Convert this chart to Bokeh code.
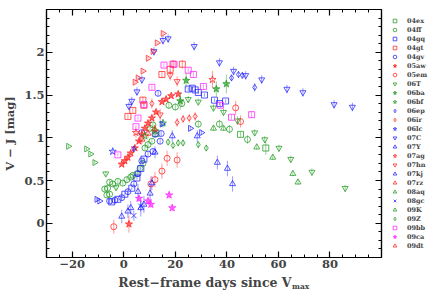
import numpy as np
from bokeh.plotting import figure
from bokeh.layouts import row, column
from bokeh.models import FixedTicker, LinearAxis, Legend, LegendItem, Label
from bokeh.embed import file_html
from bokeh.resources import INLINE

# ---------------- data (rest-frame days, V-J colour, error) ----------------
names = ["04ex", "04ff", "04gq", "04gt", "04gv", "05aw", "05em", "06T", "06ba", "06bf",
         "06ep", "06ir", "06lc", "07C", "07Y", "07ag", "07hn", "07kj", "07rz", "08aq",
         "08gc", "09K", "09Z", "09bb", "09ca", "09dt"]

x_04ex = [12.5, 45.3, 55.1]
y_04ex = [1.05, 1.04, 0.88]
e_04ex = [0.04, 0.03, 0.08]

x_04ff = [-7.4, -6.6, -6.3, -5.5, -5.5, -4.3, -2.3, -0.4, 1.2, 2.7, 3.5, 5.1, 6.3, 7.4, 8.2, 9.4, 10.9, 10.2, 11.3, 17.5, 20.0, 22.5, 28.9, 37.1, 41.0, 48.0]
y_04ff = [0.40, 0.33, 0.41, 0.34, 0.48, 0.46, 0.49, 0.47, 0.51, 0.54, 0.56, 0.58, 0.64, 0.70, 0.88, 0.92, 0.96, 1.11, 1.15, 1.38, 1.36, 1.40, 1.16, 1.16, 1.10, 0.98]
e_04ff = [0.03] * 19 + [0.04, 0.04, 0.04, 0.04, 0.05, 0.05, 0.05]

x_04gq = [-4.7, -2.3, 0.4, 3.1, 5.1, 6.6, 7.8, 25.0, 26.6, 27.7, 28.9, 31.3, 35.2, 37.1, 39.5]
y_04gq = [0.25, 0.28, 0.34, 0.41, 0.53, 0.64, 0.75, 1.57, 1.58, 1.56, 1.53, 1.50, 1.44, 1.40, 1.43]
e_04gq = [0.02] * 15

x_04gt = [1.6, 3.5, 7.4, 7.8, 14.8, 18.0, 19.1, 22.7]
y_04gt = [1.25, 1.32, 1.44, 1.38, 1.74, 1.80, 1.86, 1.86]
e_04gt = [0.03, 0.03, 0.04, 0.04, 0.04, 0.05, 0.05, 0.05]

x_04gv = [-5.5, -3.5, -0.8, 1.6, 3.9, 5.5, 7.0, 9.4, 11.3, 14.1, 13.3, 7.0, 12.1, 14.5]
y_04gv = [0.26, 0.27, 0.30, 0.37, 0.46, 0.58, 0.73, 0.81, 0.84, 0.96, 1.52, 1.06, 1.04, 1.05]
e_04gv = [0.03] * 14

x_05aw = [-0.8, 0.4, 1.6, 2.7, 4.3, 5.9, 7.0, 8.2, 9.4, 10.9, 12.5, 14.8, 16.4, 18.4, 21.1, 2.0]
y_05aw = [0.69, 0.73, 0.77, 0.82, 0.88, 0.96, 1.04, 1.11, 1.17, 1.23, 1.30, 1.42, 1.45, 1.49, 1.51, -0.01]
e_05aw = [0.02] * 15 + [0.10]

x_05em = [-3.9, 10.5, 12.1, 14.8, 16.8, 20.7, 43.4, 45.3]
y_05em = [-0.04, 0.46, 0.51, 0.61, 0.76, 0.74, 1.35, 1.19]
e_05em = [0.08, 0.09, 0.09, 0.09, 0.09, 0.09, 0.08, 0.07]

x_06T = [-7.0, -3.0, 25.0, 28.9, 34.8, 38.7, 44.1, 50.8, 54.7, 60.2, 64.8, 73.0, 85.9]
y_06T = [0.58, 0.42, 1.45, 1.42, 1.35, 1.30, 1.20, 1.06, 0.98, 0.88, 0.75, 0.60, 0.41]
e_06T = [0.03, 0.03, 0.04, 0.04, 0.04, 0.04, 0.05, 0.04, 0.04, 0.04, 0.04, 0.04, 0.04]

x_06ba = [21.9, 24.2, 35.9, 39.8]
y_06ba = [1.43, 1.67, 1.57, 1.63]
e_06ba = [0.10, 0.09, 0.09, 0.11]

x_06bf = [8.2, 12.1, 15.2]
y_06bf = [1.02, 1.08, 1.17]
e_06bf = [0.05, 0.05, 0.05]

x_06ep = [3.9, 41.8, 44.5, 46.0, 50.8]
y_06ep = [0.87, 1.70, 1.74, 1.73, 1.59]
e_06ep = [0.03, 0.04, 0.04, 0.04, 0.05]

x_06ir = [10.9, 20.7, 23.0, 25.4, 27.7]
y_06ir = [1.40, 1.18, 1.22, 1.23, 1.25]
e_06ir = [0.06, 0.05, 0.05, 0.05, 0.05]

x_06lc = [-4.3]
y_06lc = [0.84]
e_06lc = [0.02]

x_07C = [2.0, 3.1, 5.1, 7.0, 11.7, 15.2, 17.2, 27.3, 37.1, 42.6, 47.3, 53.5, 63.3, 69.5, 81.6, 88.7]
y_07C = [1.37, 1.43, 1.54, 1.68, 2.01, 2.14, 2.16, 2.07, 1.88, 1.78, 1.73, 1.68, 1.57, 1.53, 1.39, 1.36]
e_07C = [0.05] * 16

x_07Y = [-10.5, -9.4, 14.8, 25.8, 30.1]
y_07Y = [0.28, 0.26, 1.16, 1.11, 1.06]
e_07Y = [0.02, 0.02, 0.03, 0.03, 0.03]

x_07ag = [4.7, 34.4]
y_07ag = [1.06, 1.68]
e_07ag = [0.06, 0.10]

x_07hn = [14.1, 18.0, 20.7]
y_07hn = [1.27, 1.73, 1.66]
e_07hn = [0.07, 0.06, 0.06]

x_07kj = [-0.8, 1.6, 2.7, 5.5, 6.6, 7.8, 10.2, 10.9, 12.1, 18.8, 28.5, 36.3, 40.2, 42.2]
y_07kj = [0.08, 0.14, 0.18, 0.37, 0.18, 0.22, 0.35, 0.47, 0.83, 1.02, 1.02, 0.71, 0.64, 0.46]
e_07kj = [0.08, 0.08, 0.08, 0.09, 0.10, 0.10, 0.10, 0.08, 0.07, 0.07, 0.07, 0.08, 0.09, 0.09]

x_07rz = [7.0, 9.4, 12.0]
y_07rz = [0.98, 1.05, 1.10]
e_07rz = [0.05, 0.05, 0.05]

x_08aq = [34.8, 38.7, 51.6, 57.8, 65.6, 67.6]
y_08aq = [1.11, 1.11, 0.89, 0.77, 0.58, 0.48]
e_08aq = [0.03, 0.03, 0.03, 0.03, 0.03, 0.03]

x_08gc = [3.9, 6.6]
y_08gc = [0.09, 0.20]
e_08gc = [0.06, 0.06]

x_09K = [-21.5, -14.5, -12.9, -11.3]
y_09K = [0.90, 0.87, 0.81, 0.71]
e_09K = [0.02, 0.02, 0.02, 0.02]

x_09Z = [17.2, 19.1, 21.1, 23.0, 28.9, 32.0]
y_09Z = [0.95, 0.91, 0.94, 0.94, 0.92, 0.88]
e_09Z = [0.04, 0.04, 0.04, 0.04, 0.04, 0.04]

x_09bb = [-2.3, 4.7, 5.5, 7.8, 10.9, 15.6, 19.5, 25.0, 27.0, 30.9, 37.5, 41.8, 49.6]
y_09bb = [0.80, 1.13, 1.23, 1.39, 1.59, 1.85, 1.86, 1.79, 1.74, 1.60, 1.38, 1.24, 1.27]
e_09bb = [0.02, 0.02, 0.02, 0.02, 0.03, 0.03, 0.03, 0.03, 0.03, 0.03, 0.03, 0.03, 0.04]

x_09ca = [5.9, 9.4, 10.5, 17.6, 18.8]
y_09ca = [0.29, 0.26, 0.22, 0.33, 0.18]
e_09ca = [0.04, 0.04, 0.04, 0.04, 0.04]

x_09dt = [4.3, 5.5, 7.4, 9.4, 11.3, 12.9, 15.2]
y_09dt = [1.65, 1.70, 1.78, 1.93, 2.01, 2.11, 2.22]
e_09dt = [0.02] * 7

x_ticks = [-20, 0, 20, 40, 60, 80]
y_ticks = [0, 0.5, 1, 1.5, 2]

# ---------------- styles ----------------
GREEN, BLUE, RED, MAG = "#1f9a1f", "#2020ff", "#ff2020", "#ff20ff"
style = {
    "04ex": (GREEN, "square", 0, False), "04ff": (GREEN, "circle", 0, False),
    "04gq": (BLUE, "square", 0, False), "04gt": (RED, "square", 0, False),
    "04gv": (BLUE, "circle", 0, False), "05aw": (RED, "star", 0, True),
    "05em": (RED, "circle", 0, False), "06T": (GREEN, "inverted_triangle", 0, False),
    "06ba": (GREEN, "star", 0, True), "06bf": (GREEN, "star", 0, False),
    "06ep": (BLUE, "diamond", 0, False), "06ir": (RED, "diamond", 0, False),
    "06lc": (BLUE, "star", 0, False), "07C": (BLUE, "inverted_triangle", 0, False),
    "07Y": (BLUE, "triangle", -np.pi / 2, False), "07ag": (RED, "star", 0, False),
    "07hn": (RED, "inverted_triangle", 0, False), "07kj": (BLUE, "triangle", 0, False),
    "07rz": (RED, "triangle", 0, False), "08aq": (GREEN, "triangle", 0, False),
    "08gc": (BLUE, "x", 0, False), "09K": (GREEN, "triangle", -np.pi / 2, False),
    "09Z": (GREEN, "diamond", 0, False), "09bb": (MAG, "square", 0, False),
    "09ca": (MAG, "star", 0, True), "09dt": (RED, "triangle", -np.pi / 2, False),
}

FONT = "DejaVu Serif"

# ---------------- main plot ----------------
p = figure(frame_width=335, frame_height=248, x_range=(-30, 100), y_range=(-0.4, 2.5),
           output_backend="svg", toolbar_location=None,
           min_border_top=9, min_border_left=42, min_border_right=2, min_border_bottom=16)
p.grid.visible = False
p.outline_line_color = "black"
p.outline_line_width = 1.2

# legend-only panel (its view range lies outside all data, so only the legend shows)
lg = figure(width=57, height=273, x_range=(1000, 1001), y_range=(1000, 1001),
            output_backend="svg", toolbar_location=None,
            x_axis_location=None, y_axis_location=None,
            min_border_top=2, min_border_left=0, min_border_right=0, min_border_bottom=0)
lg.grid.visible = False
lg.outline_line_color = None

items = []
g = globals()
for n in names:
    xs, ys, es = g["x_" + n], g["y_" + n], g["e_" + n]
    col, mk, ang, filled = style[n]
    ya = np.array(ys)
    ea = np.array(es)
    p.segment(x0=xs, y0=list(ya - ea), x1=xs, y1=list(ya + ea),
              line_color=col, line_alpha=0.45, line_width=1)
    sz = 6 if mk not in ("star", "x") else 7.5
    kw = dict(marker=mk, angle=ang, size=sz, line_color=col, line_alpha=0.75, line_width=1,
              fill_color=col if filled else None, fill_alpha=0.6 if filled else 0)
    p.scatter(xs, ys, **kw)
    r = lg.scatter(xs, ys, **kw)
    items.append(LegendItem(label=n, renderers=[r]))

def style_axis(ax, labels=True):
    ax.axis_line_color = "black"
    ax.axis_line_width = 1.2
    ax.major_tick_in = 6
    ax.major_tick_out = 0
    ax.minor_tick_in = 3
    ax.minor_tick_out = 0
    ax.major_tick_line_width = 1.2
    ax.minor_tick_line_width = 1
    ax.major_label_text_font = FONT
    ax.major_label_text_font_style = "bold"
    ax.major_label_text_font_size = "11.5px"
    ax.major_label_standoff = 2
    ax.axis_label_text_font = FONT
    ax.axis_label_text_font_style = "bold"
    ax.axis_label_text_font_size = "11.5px"
    ax.axis_label_standoff = 4
    if not labels:
        ax.major_label_text_alpha = 0
        ax.major_label_standoff = 0
        ax.major_label_text_font_size = "1px"

xt = FixedTicker(ticks=x_ticks, minor_ticks=list(range(-30, 101, 5)))
yt = FixedTicker(ticks=y_ticks, minor_ticks=[round(v, 1) for v in np.arange(-0.4, 2.51, 0.1)])
xlab = {v: (("\u2212" + str(-v)) if v < 0 else str(v)) for v in x_ticks}
ylab = {v: ("{:g}".format(v)) for v in y_ticks}

p.xaxis.ticker = xt
p.yaxis.ticker = yt
p.xaxis.major_label_overrides = xlab
p.yaxis.major_label_overrides = ylab
style_axis(p.xaxis[0])
style_axis(p.yaxis[0])
p.yaxis.axis_label = "V \u2212 J [mag]"

top = LinearAxis(ticker=xt)
style_axis(top, labels=False)
p.add_layout(top, "above")
right = LinearAxis(ticker=yt)
style_axis(right, labels=False)
p.add_layout(right, "right")

legend = Legend(items=items, location="top_left")
legend.label_text_font = FONT
legend.label_text_font_style = "bold"
legend.label_text_font_size = "6.5px"
legend.glyph_height = 9
legend.glyph_width = 9
legend.label_height = 9
legend.spacing = 0
legend.padding = 9
legend.margin = 7
legend.label_standoff = 8
legend.border_line_color = None
legend.background_fill_alpha = 0
lg.add_layout(legend)

# ---------------- x-axis title strip ----------------
st = figure(width=436, height=17, x_range=(0, 436), y_range=(0, 17),
            output_backend="svg", toolbar_location=None,
            x_axis_location=None, y_axis_location=None,
            min_border_top=0, min_border_left=0, min_border_right=0, min_border_bottom=0)
st.grid.visible = False
st.outline_line_color = None
st.add_layout(Label(x=291, y=8, text="Rest\u2212frame days since V", text_align="right",
                    text_baseline="alphabetic", text_font=FONT, text_font_style="bold",
                    text_font_size="12.5px"))
st.add_layout(Label(x=291.5, y=4, text="max", text_align="left",
                    text_baseline="alphabetic", text_font=FONT, text_font_style="bold",
                    text_font_size="7.5px"))

layout = column(row(p, lg), st, spacing=0)
open("out.html", "w").write(file_html(layout, INLINE))
